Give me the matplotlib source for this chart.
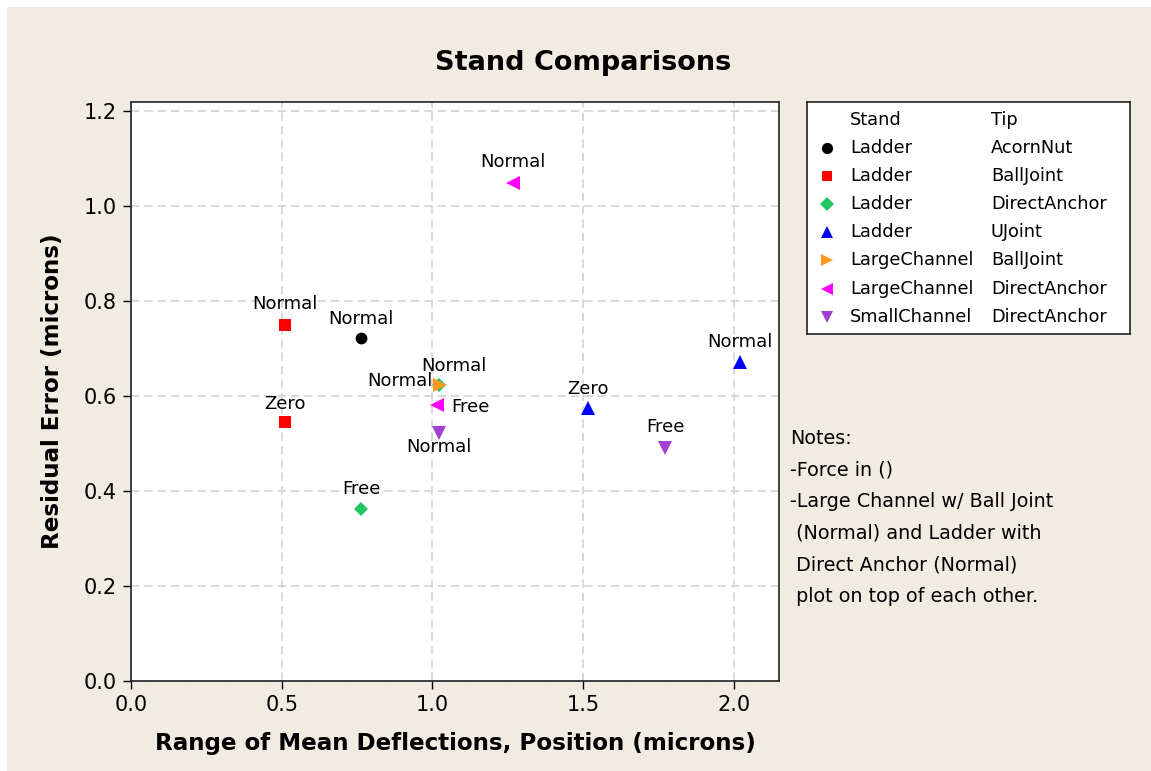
import matplotlib
matplotlib.use("Agg")
import matplotlib.pyplot as plt
from matplotlib.patches import Rectangle

# ---------------- data ----------------
stands = ["Ladder", "Ladder", "Ladder", "Ladder", "LargeChannel", "LargeChannel", "SmallChannel"]
tips = ["AcornNut", "BallJoint", "DirectAnchor", "UJoint", "BallJoint", "DirectAnchor", "DirectAnchor"]

ladder_acorn_x = [0.762]
ladder_acorn_y = [0.722]
ladder_acorn_lab = ["Normal"]

ladder_ball_x = [0.511, 0.511]
ladder_ball_y = [0.750, 0.545]
ladder_ball_lab = ["Normal", "Zero"]

ladder_direct_x = [0.763, 1.022]
ladder_direct_y = [0.362, 0.623]
ladder_direct_lab = ["Free", "Normal"]

ladder_ujoint_x = [2.022, 1.517]
ladder_ujoint_y = [0.672, 0.574]
ladder_ujoint_lab = ["Normal", "Zero"]

large_ball_x = [1.025]
large_ball_y = [0.623]
large_ball_lab = ["Normal"]

large_direct_x = [1.266, 1.016]
large_direct_y = [1.049, 0.581]
large_direct_lab = ["Normal", "Free"]

small_direct_x = [1.021, 1.773]
small_direct_y = [0.522, 0.490]
small_direct_lab = ["Normal", "Free"]

x_ticks = [0.0, 0.5, 1.0, 1.5, 2.0]
y_ticks = [0.0, 0.2, 0.4, 0.6, 0.8, 1.0, 1.2]

title = "Stand Comparisons"
xlabel = "Range of Mean Deflections, Position (microns)"
ylabel = "Residual Error (microns)"
notes = ["Notes:", "-Force in ()", "-Large Channel w/ Ball Joint",
         " (Normal) and Ladder with", " Direct Anchor (Normal)",
         " plot on top of each other."]

# ---------------- style ----------------
W, H = 1151, 771
BG = "#F2EBE1"
FS_LAB = 13
FS_LEG = 12.8
FS_NOTE = 13.8

groups = [
    (ladder_acorn_x, ladder_acorn_y, ladder_acorn_lab, "o", "#000000", 8.5),
    (ladder_ball_x, ladder_ball_y, ladder_ball_lab, "s", "#FF0000", 8),
    (ladder_direct_x, ladder_direct_y, ladder_direct_lab, "D", "#22C55E", 7),
    (ladder_ujoint_x, ladder_ujoint_y, ladder_ujoint_lab, "^", "#0000FF", 9.5),
    (large_ball_x, large_ball_y, large_ball_lab, ">", "#FF9A1F", 9.5),
    (large_direct_x, large_direct_y, large_direct_lab, "<", "#FF00FF", 9.5),
    (small_direct_x, small_direct_y, small_direct_lab, "v", "#A33FD3", 9.5),
]

# label offsets in pixels (dx, dy, ha) per point, same order as data
offsets = [
    [(0, 19, "center")],
    [(0, 21, "center"), (0, 18, "center")],
    [(0, 20, "center"), (-6, 4, "right")],
    [(0, 20, "center"), (0, 19, "center")],
    [(14, 19, "center")],
    [(0, 21, "center"), (14, -2, "left")],
    [(0, -14, "center"), (0, 21, "center")],
]

fig = plt.figure(figsize=(W / 100, H / 100), dpi=100, facecolor=BG)
fig.patches.append(Rectangle((0, 1 - 7 / H), 1, 7 / H, transform=fig.transFigure,
                             facecolor="white", edgecolor="none", zorder=-10))
fig.patches.append(Rectangle((0, 0), 7 / W, 1, transform=fig.transFigure,
                             facecolor="white", edgecolor="none", zorder=-10))

ax = fig.add_axes([131 / W, 1 - 681 / H, (779 - 131) / W, (681 - 102) / H])
ax.set_facecolor("white")
ax.set_xlim(0, 2.15)
ax.set_ylim(0, 1.219)
ax.set_xticks(x_ticks)
ax.set_yticks(y_ticks)
ax.set_xticklabels([f"{v:.1f}" for v in x_ticks])
ax.set_yticklabels([f"{v:.1f}" for v in y_ticks])
ax.tick_params(direction="out", length=6, width=1, labelsize=15, pad=4, colors="black")
ax.grid(True, color="#D3D3D3", linestyle=(0, (5, 3)), linewidth=1.2)
ax.set_axisbelow(True)
for sp in ax.spines.values():
    sp.set_linewidth(1.2)
    sp.set_color("#222222")

ax.set_xlabel(xlabel, fontsize=16.6, fontweight="bold", labelpad=12)
ax.set_ylabel(ylabel, fontsize=16.6, fontweight="bold", labelpad=14)
fig.text(583 / W, 1 - 63 / H, title, fontsize=19.5, fontweight="bold",
         ha="center", va="center")

for gi, (xs, ys, labs, mk, col, ms) in enumerate(groups):
    z = 4 if gi == 4 else 3
    ax.plot(xs, ys, linestyle="none", marker=mk, color=col, markersize=ms,
            markeredgewidth=0, zorder=z, clip_on=False)
    for x, y, lab, (dx, dy, ha) in zip(xs, ys, labs, offsets[gi]):
        ax.annotate(lab, (x, y), xytext=(dx, dy), textcoords="offset pixels",
                    ha=ha, va="center", fontsize=FS_LAB, zorder=5)

# ---------------- legend box ----------------
lax = fig.add_axes([807 / W, 1 - 334 / H, (1130 - 807) / W, (334 - 102) / H])
lax.set_xlim(807, 1130)
lax.set_ylim(334, 102)
lax.set_xticks([])
lax.set_yticks([])
lax.set_facecolor("white")
for sp in lax.spines.values():
    sp.set_linewidth(1.2)
    sp.set_color("#222222")
lax.text(850, 120, "Stand", fontsize=FS_LEG, va="center", ha="left")
lax.text(991, 120, "Tip", fontsize=FS_LEG, va="center", ha="left")
row_y0, row_dy = 148, 28.1
for i, ((xs, ys, labs, mk, col, ms), st, tp) in enumerate(zip(groups, stands, tips)):
    yy = row_y0 + i * row_dy
    lax.plot([827], [yy], marker=mk, color=col, markersize=ms * 0.95,
             markeredgewidth=0, linestyle="none")
    lax.text(850, yy, st, fontsize=FS_LEG, va="center", ha="left")
    lax.text(991, yy, tp, fontsize=FS_LEG, va="center", ha="left")

# ---------------- notes ----------------
for i, line in enumerate(notes):
    fig.text(790 / W, 1 - (438 + i * 31.8) / H, line, fontsize=FS_NOTE,
             ha="left", va="center")

fig.savefig("out.png", dpi=100, facecolor=BG)
